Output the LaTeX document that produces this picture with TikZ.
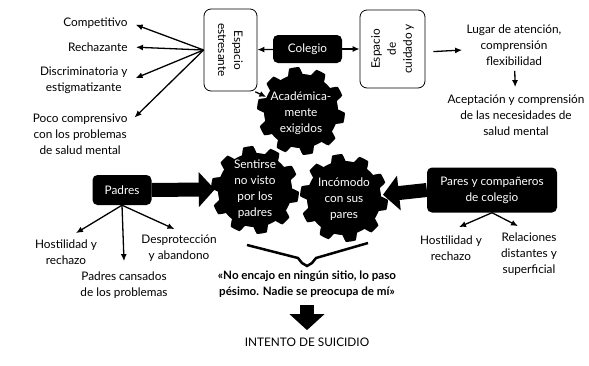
\documentclass[tikz,border=0pt]{standalone}
\usepackage{fontspec}
\setmainfont{Lato}
\usetikzlibrary{positioning, arrows.meta, calc}

% cog wheel: centre, inner radius, outer radius
\newcommand{\cog}[3]{\fill[shift={#1}] plot[domain=0:360, samples=541, variable=\t]
  ({\t}:{#2+(#3-#2)*(0.5+0.5*max(-1,min(1,2.4*sin(10*\t))))}) -- cycle;}

\begin{document}
\begin{tikzpicture}[x=1pt, y=-1pt, every node/.style={align=center, font=\fontsize{11.8}{16}\selectfont},
  blackbox/.style={fill=black, text=white, rounded corners=5pt}, whitebox/.style={draw, thick, rounded corners=7pt},
  geartext/.style={circle, minimum size=76pt, inner sep=0pt, text=white},
  arrow/.style={-{Latex[length=7pt,width=6pt]}, line width=1.3pt},
  bigarrow/.style={line width=14pt, -{Triangle[length=16pt,width=34pt]}}]
  \useasboundingbox (0,0) rectangle (589,365);

  % gears
  \cog{(301,111)}{37}{44} \cog{(255,190)}{37}{44} \cog{(344,198)}{37}{44}

  % colegio
  \node[whitebox, rotate=-90, minimum width=82pt, minimum height=53pt] (estres) at (230.5,50) {Espacio\\estresante};
  \node[blackbox, minimum width=69pt, minimum height=28pt] (coleg) at (307.5,49) {Colegio};
  \node[whitebox, rotate=90, minimum width=78pt, minimum height=65pt] (cuid) at (392.5,49) {Espacio\\de\\cuidado y};
  \node[anchor=east] (comp) at (131,23) {Competitivo};
  \node[anchor=east] (rech) at (131,47) {Rechazante};
  \node[anchor=east] (disc) at (131,80) {Discriminatoria y\\estigmatizante};
  \node[anchor=east] (poco) at (131,134) {Poco comprensivo\\con los problemas\\de salud mental};
  \node (lugar) at (514,45) {Lugar de atención,\\comprensión\\flexibilidad};
  \node (acep) at (516,115) {Aceptación y comprensión\\de las necesidades de\\salud mental};

  \draw[arrow] (coleg) -- (estres); \draw[arrow] (coleg) -- (cuid);
  \draw[arrow, shorten >=5pt] (estres.south) -- (comp.east);
  \draw[arrow, shorten >=5pt] (estres.south) -- (rech.east);
  \draw[arrow, shorten >=5pt] (estres.south) -- (disc.east);
  \draw[arrow, shorten >=5pt] (estres.south) -- ([yshift=13pt]poco.east);
  \draw[arrow, shorten <=8pt, shorten >=1pt] ([yshift=-3pt]cuid.south) -- ([yshift=-5pt]lugar.west);
  \draw[arrow, shorten <=2pt, shorten >=4pt] (lugar) -- (acep);

  % gears text
  \node[geartext] (acad) at (301,113) {Académica-\\mente\\exigidos};
  \node[geartext] (sent) at (255,189) {Sentirse\\no visto\\por los\\padres};
  \node[geartext] (inc) at (344,199) {Incómodo\\con sus\\pares};
  \draw[arrow, shorten <=1pt] ([xshift=-3pt]estres.north east) -- (acad);

  % padres
  \node[blackbox, minimum width=59pt, minimum height=30pt] (padres) at (122,190) {Padres};
  \node (phost) at (66,252) {Hostilidad y\\rechazo};
  \node (pcans) at (124,285) {Padres cansados\\de los problemas};
  \node (pdesp) at (179,248) {Desprotección\\y abandono};
  \draw[bigarrow, shorten >=2pt] (padres.east) -- (sent);
  \draw[arrow] (padres.south) -- ([xshift=10pt,yshift=3pt]phost.north);
  \draw[arrow] (padres.south) -- ([yshift=7pt]pcans.north);
  \draw[arrow, shorten >=5pt] (padres.south) -- (pdesp.north);

  % pares
  \node[blackbox, minimum width=130pt, minimum height=45pt] (pares) at (492,190) {Pares y compañeros\\de colegio};
  \node (rhost) at (451,248) {Hostilidad y\\rechazo};
  \node (rrel) at (529,254) {Relaciones\\distantes y\\superficial};
  \draw[bigarrow, shorten >=1pt] (pares.west) -- (inc);
  \draw[arrow] (pares.south) -- ([xshift=8pt,yshift=5pt]rhost.north);
  \draw[arrow] (pares.south) -- ([xshift=-11pt,yshift=3pt]rrel.north);

  % brace and result
  \draw[line width=2.5pt] (247,245) -- (298,258) -- (302,263) -- (307,266) -- (312,263) -- (316,258) -- (368,243);
  \node[font=\fontsize{11.6}{16}\selectfont\bfseries] (quote) at (307,284) {«No encajo en ningún sitio, lo paso\\pésimo. Nadie se preocupa de mí»};
  \node (intento) at (307,342) {INTENTO DE SUICIDIO};
  \draw[bigarrow, shorten <=4pt, shorten >=4pt] (quote.south) -- (intento.north);
\end{tikzpicture}
\end{document}
